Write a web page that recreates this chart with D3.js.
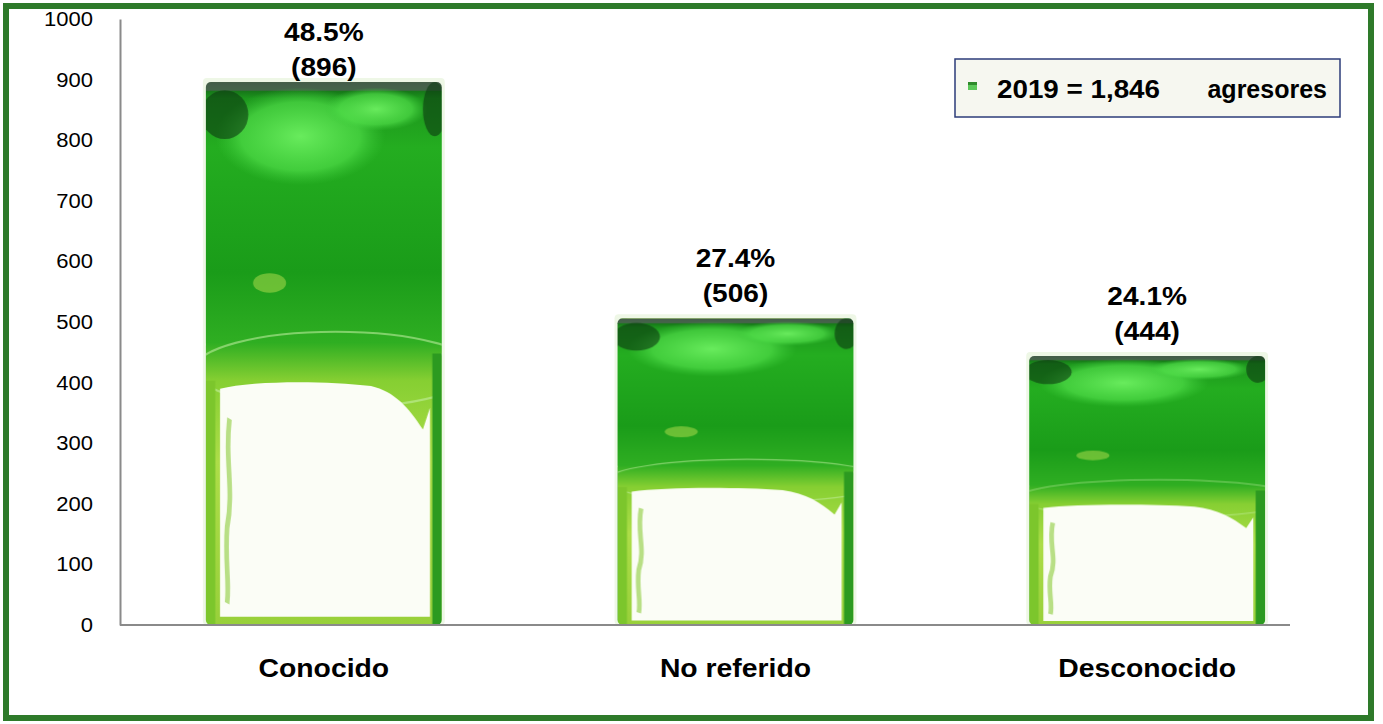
<!DOCTYPE html>
<html><head><meta charset="utf-8">
<script src="https://cdn.jsdelivr.net/npm/d3@7"></script>
<style>html,body{margin:0;padding:0;background:#fff;}svg{display:block;font-family:"Liberation Sans",Arial,sans-serif;}</style>
</head><body>
<script>
const categories = ["Conocido", "No referido", "Desconocido"];
const values = [896, 506, 444];
const percents = ["48.5%", "27.4%", "24.1%"];
const yTicks = [0, 100, 200, 300, 400, 500, 600, 700, 800, 900, 1000];
const legendYear = "2019 = 1,846";
const legendWord = "agresores";

const W = 1383, H = 724;
const svg = d3.select("body").append("svg").attr("width", W).attr("height", H);

// pattern imitating the picture fill
const defs = svg.append("defs");
const g1 = defs.append("linearGradient").attr("id","gBar").attr("x1",0).attr("y1",0).attr("x2",0).attr("y2",1);
[[0,"#0f4f14"],[0.03,"#1c951c"],[0.12,"#24ad20"],[0.35,"#1a9c19"],[0.48,"#2fae22"],[0.55,"#86cf32"],[0.7,"#addd48"],[1,"#98d03a"]]
  .forEach(s => g1.append("stop").attr("offset",s[0]).attr("stop-color",s[1]));
const gs = defs.append("radialGradient").attr("id","gSplotch");
gs.append("stop").attr("offset",0).attr("stop-color","#6cef60").attr("stop-opacity",0.95);
gs.append("stop").attr("offset",0.7).attr("stop-color","#4fdc48").attr("stop-opacity",0.7);
gs.append("stop").attr("offset",1).attr("stop-color","#3cc83a").attr("stop-opacity",0);
const pat = defs.append("pattern").attr("id","pBar").attr("patternContentUnits","objectBoundingBox").attr("width",1).attr("height",1);
pat.append("rect").attr("width",1).attr("height",1).attr("fill","url(#gBar)");
pat.append("rect").attr("x",0).attr("y",0).attr("width",1).attr("height",0.016).attr("fill","#55605a").attr("opacity",0.75);
pat.append("ellipse").attr("cx",0.4).attr("cy",0.1).attr("rx",0.36).attr("ry",0.09).attr("fill","url(#gSplotch)");
pat.append("ellipse").attr("cx",0.72).attr("cy",0.05).attr("rx",0.22).attr("ry",0.04).attr("fill","url(#gSplotch)");
pat.append("ellipse").attr("cx",0.08).attr("cy",0.06).attr("rx",0.1).attr("ry",0.045).attr("fill","#0b3a10").attr("opacity",0.6);
pat.append("ellipse").attr("cx",0.97).attr("cy",0.05).attr("rx",0.05).attr("ry",0.05).attr("fill","#0b3a10").attr("opacity",0.6);
pat.append("ellipse").attr("cx",0.55).attr("cy",0.53).attr("rx",0.6).attr("ry",0.07).attr("fill","none").attr("stroke","#c6f0a8").attr("stroke-width",0.004).attr("opacity",0.55);
pat.append("ellipse").attr("cx",0.27).attr("cy",0.37).attr("rx",0.07).attr("ry",0.018).attr("fill","#b8e050").attr("opacity",0.5);
pat.append("path").attr("d","M0.06,0.565 C0.2,0.55 0.5,0.55 0.7,0.56 C0.8,0.57 0.86,0.6 0.92,0.64 L0.95,0.6 L0.95,0.985 L0.06,0.985 Z").attr("fill","#fbfdf6");
pat.append("path").attr("d","M0.1,0.62 C0.08,0.7 0.12,0.75 0.09,0.82 C0.08,0.88 0.1,0.92 0.09,0.96").attr("fill","none").attr("stroke","#8ccc3a").attr("stroke-width",0.02).attr("opacity",0.6);
pat.append("rect").attr("x",0).attr("y",0.55).attr("width",0.04).attr("height",0.45).attr("fill","#7cc62c");
pat.append("rect").attr("x",0.96).attr("y",0.5).attr("width",0.04).attr("height",0.5).attr("fill","#2c9a20");

// frame
svg.append("rect").attr("x",6).attr("y",6).attr("width",1365).attr("height",712)
  .attr("fill","none").attr("stroke","#2e7a2a").attr("stroke-width",6);

const x = d3.scaleBand().domain(categories).range([118, 1353]).paddingInner(0.427).paddingOuter(0.2135);
const y = d3.scaleLinear().domain([0, 1000]).range([625, 19]);

function stretch(sel, k) {
  sel.each(function() {
    const L = this.getComputedTextLength();
    d3.select(this).attr("textLength", L * k).attr("lengthAdjust", "spacingAndGlyphs");
  });
}

// y axis
const yAxis = svg.append("g").attr("transform","translate(120,0)")
  .call(d3.axisLeft(y).tickValues(yTicks).tickSize(0).tickPadding(27).tickFormat(d3.format("d")));
yAxis.select(".domain").attr("stroke","#8a8a8a").attr("stroke-width",2);
yAxis.selectAll("text").attr("font-size",20).attr("fill","#000").attr("font-family","Liberation Sans, Arial, sans-serif");
stretch(yAxis.selectAll("text"), 1.1);

// bars
const bars = svg.append("g");
bars.selectAll("rect.halo").data(values).join("rect")
  .attr("x",(d,i)=>x(categories[i])-3).attr("y",d=>y(d)-4)
  .attr("width",x.bandwidth()+6).attr("height",d=>y(0)-y(d)+4)
  .attr("fill","#eef7e6").attr("rx",4);
bars.selectAll("rect.bar").data(values).join("rect")
  .attr("x",(d,i)=>x(categories[i])).attr("y",d=>y(d))
  .attr("width",x.bandwidth()).attr("height",d=>y(0)-y(d))
  .attr("rx",5).attr("fill","url(#pBar)");

// x axis line
svg.append("line").attr("x1",120).attr("x2",1290).attr("y1",y(0)).attr("y2",y(0))
  .attr("stroke","#8a8a8a").attr("stroke-width",2);

// value labels
const lab = svg.append("g").attr("font-weight","bold").attr("font-size",26).attr("text-anchor","middle").attr("fill","#000");
values.forEach((v,i)=>{
  const cx = x(categories[i]) + x.bandwidth()/2;
  const py = Math.max(y(v) - 51, 41);
  lab.append("text").attr("x",cx).attr("y",py).text(percents[i]);
  lab.append("text").attr("x",cx).attr("y",py + 35).text("(" + v + ")");
});
stretch(lab.selectAll("text"), 1.08);

// category labels
const cat = svg.append("g").selectAll("text").data(categories).join("text")
  .attr("x",d=>x(d)+x.bandwidth()/2).attr("y",677)
  .attr("text-anchor","middle").attr("font-weight","bold").attr("font-size",26).attr("fill","#000")
  .text(d=>d);
stretch(cat, 1.09);

// legend
const lg = svg.append("g");
lg.append("rect").attr("x",955).attr("y",59).attr("width",385).attr("height",58)
  .attr("fill","#f6f7f0").attr("stroke","#2d3d7a").attr("stroke-width",1.5);
lg.append("rect").attr("x",968).attr("y",82).attr("width",9).attr("height",8).attr("fill","#5cc85a");
lg.append("rect").attr("x",968).attr("y",82).attr("width",9).attr("height",3).attr("fill","#2f8a2c");
lg.append("text").attr("x",997).attr("y",98).attr("font-weight","bold").attr("font-size",25).attr("fill","#000")
  .attr("textLength",163).attr("lengthAdjust","spacingAndGlyphs").text(legendYear);
lg.append("text").attr("x",1327).attr("y",98).attr("text-anchor","end").attr("font-weight","bold").attr("font-size",25).attr("fill","#000").text(legendWord);
</script>
</body></html>
